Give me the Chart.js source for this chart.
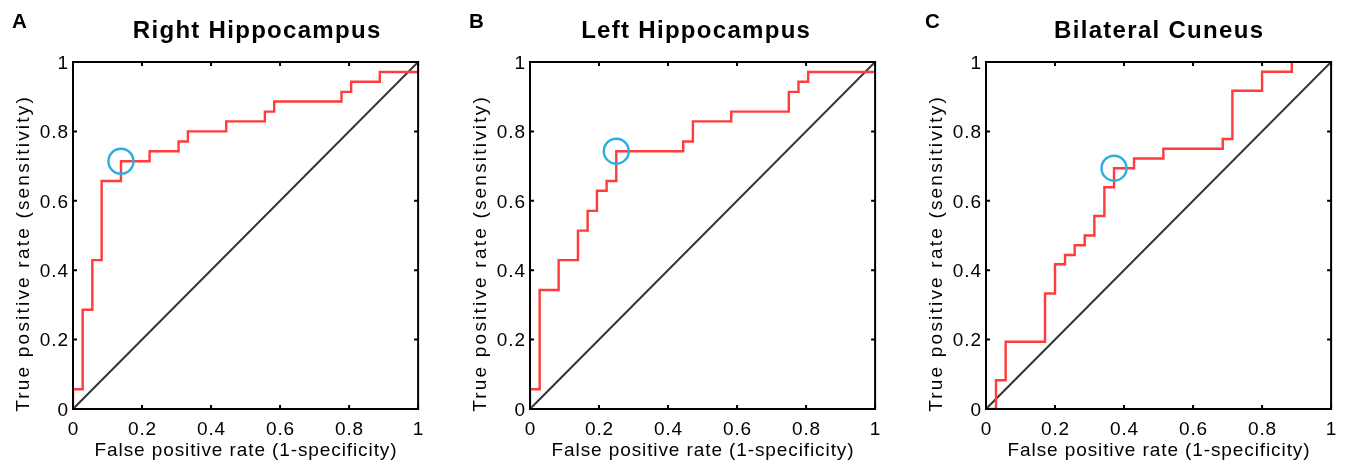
<!DOCTYPE html>
<html>
<head>
<meta charset="utf-8">
<script src="https://cdn.jsdelivr.net/npm/chart.js@4.4.1/dist/chart.umd.min.js"></script>
<style>
    html, body { margin: 0; padding: 0; background: #fff; overflow: hidden; }
    #wrap { position: relative; width: 1346px; height: 463px; }
    canvas { position: absolute; top: 0; }
</style>
</head>
<body>
<div id="wrap"></div>
<script>
// ROC data (false positive rate / true positive rate)
const fprRight = [0, 0, 0.028, 0.056, 0.083, 0.139, 0.222, 0.306, 0.333, 0.444, 0.556, 0.583, 0.778, 0.806, 0.889, 1];
const tprRight = [0, 0.057, 0.286, 0.429, 0.657, 0.714, 0.743, 0.771, 0.8, 0.829, 0.857, 0.886, 0.914, 0.943, 0.971, 0.971];

const fprLeft = [0, 0, 0.028, 0.083, 0.139, 0.167, 0.194, 0.222, 0.25, 0.444, 0.472, 0.583, 0.75, 0.778, 0.806, 1];
const tprLeft = [0, 0.057, 0.343, 0.429, 0.514, 0.571, 0.629, 0.657, 0.743, 0.771, 0.829, 0.857, 0.914, 0.943, 0.971, 0.971];

const fprCuneus = [0, 0.029, 0.057, 0.171, 0.2, 0.229, 0.257, 0.286, 0.314, 0.343, 0.371, 0.429, 0.514, 0.686, 0.714, 0.8, 0.886];
const tprCuneus = [0, 0.083, 0.194, 0.333, 0.417, 0.444, 0.472, 0.5, 0.556, 0.639, 0.694, 0.722, 0.75, 0.778, 0.917, 0.972, 1];

// optimal cut-off points (blue circles)
const optimalFpr = [0.139, 0.25, 0.371];
const optimalTpr = [0.714, 0.743, 0.694];

const chanceLine = [0, 1];
const tickValues = [0, 0.2, 0.4, 0.6, 0.8, 1];
const tickLabels = ['0', '0.2', '0.4', '0.6', '0.8', '1'];

const panelLetters = ['A', 'B', 'C'];
const panelTitles = ['Right Hippocampus', 'Left Hippocampus', 'Bilateral Cuneus'];
const xLabel = 'False positive rate (1-specificity)';
const yLabel = 'True positive rate (sensitivity)';

// layout
const plotLefts = [73, 530, 986];
const titleShifts = [11, -7, 0];
const PLOT = 347, TOP = 62, LEFT_PAD = 73, CANVAS_W = 433, CANVAS_H = 463;
const FONT = '"Liberation Sans", Arial, Helvetica, sans-serif';

function toPoints(xs, ys) {
    return xs.map((x, i) => ({ x: x, y: ys[i] }));
}

function drawText(ctx, text, x, y, font, spacing, align, angle) {
    ctx.save();
    ctx.translate(x, y);
    if (angle) ctx.rotate(angle);
    ctx.font = font;
    ctx.fillStyle = '#000';
    ctx.textBaseline = 'alphabetic';
    ctx.letterSpacing = spacing + 'px';
    const w = ctx.measureText(text).width - spacing;
    let x0 = 0;
    if (align === 'center') x0 = -w / 2;
    if (align === 'right') x0 = -w;
    ctx.textAlign = 'left';
    ctx.fillText(text, x0, 0);
    ctx.restore();
}

// frame, inward ticks and all labels
const rocFrame = {
    id: 'rocFrame',
    afterDraw(chart, args, opts) {
        const ctx = chart.ctx;
        const a = chart.chartArea;
        const xs = chart.scales.x, ys = chart.scales.y;

        ctx.save();
        ctx.strokeStyle = '#000';
        ctx.lineWidth = 2;
        ctx.strokeRect(a.left, a.top, a.right - a.left, a.bottom - a.top);
        ctx.beginPath();
        tickValues.forEach(v => {
            const px = xs.getPixelForValue(v);
            const py = ys.getPixelForValue(v);
            ctx.moveTo(px, a.bottom); ctx.lineTo(px, a.bottom - 4);
            ctx.moveTo(px, a.top); ctx.lineTo(px, a.top + 4);
            ctx.moveTo(a.left, py); ctx.lineTo(a.left + 4, py);
            ctx.moveTo(a.right, py); ctx.lineTo(a.right - 4, py);
        });
        ctx.stroke();
        ctx.restore();

        const tickFont = '19px ' + FONT;
        tickValues.forEach((v, i) => {
            drawText(ctx, tickLabels[i], xs.getPixelForValue(v), a.bottom + 26, tickFont, 0.9, 'center');
            drawText(ctx, tickLabels[i], a.left - 5, ys.getPixelForValue(v) + 6.8, tickFont, 0.9, 'right');
        });

        const cx = (a.left + a.right) / 2;
        const cy = (a.top + a.bottom) / 2;
        drawText(ctx, xLabel, cx, 456, '19px ' + FONT, 0.9, 'center');
        drawText(ctx, yLabel, a.left - 44.5, cy + 19, '19px ' + FONT, 2.2, 'center', -Math.PI / 2);
        drawText(ctx, opts.title, cx + opts.shift, 37.5, 'bold 24px ' + FONT, 1.3, 'center');
        drawText(ctx, opts.letter, a.left - 61, 28, 'bold 20.5px ' + FONT, 0, 'left');
    }
};

function makePanel(i, fpr, tpr) {
    const canvas = document.createElement('canvas');
    canvas.width = CANVAS_W;
    canvas.height = CANVAS_H;
    canvas.style.left = (plotLefts[i] - LEFT_PAD) + 'px';
    document.getElementById('wrap').appendChild(canvas);

    new Chart(canvas.getContext('2d'), {
        type: 'scatter',
        data: {
            datasets: [
                {
                    data: [{ x: optimalFpr[i], y: optimalTpr[i] }],
                    pointStyle: 'circle',
                    pointRadius: 12.5,
                    borderColor: '#2aaee2',
                    backgroundColor: 'rgba(0,0,0,0)',
                    borderWidth: 2.4
                },
                {
                    data: toPoints(fpr, tpr),
                    showLine: true,
                    stepped: 'before',
                    pointRadius: 0,
                    borderColor: '#ff3b3b',
                    borderWidth: 2.4
                },
                {
                    data: toPoints(chanceLine, chanceLine),
                    showLine: true,
                    pointRadius: 0,
                    borderColor: '#333333',
                    borderWidth: 2
                }
            ]
        },
        options: {
            responsive: false,
            animation: false,
            devicePixelRatio: 1,
            layout: {
                padding: { left: LEFT_PAD, top: TOP, right: CANVAS_W - LEFT_PAD - PLOT, bottom: CANVAS_H - TOP - PLOT }
            },
            scales: {
                x: { type: 'linear', min: 0, max: 1, display: false },
                y: { type: 'linear', min: 0, max: 1, display: false }
            },
            plugins: {
                legend: { display: false },
                tooltip: { enabled: false },
                rocFrame: { title: panelTitles[i], letter: panelLetters[i], shift: titleShifts[i] }
            }
        },
        plugins: [rocFrame]
    });
}

makePanel(0, fprRight, tprRight);
makePanel(1, fprLeft, tprLeft);
makePanel(2, fprCuneus, tprCuneus);
</script>
</body>
</html>
